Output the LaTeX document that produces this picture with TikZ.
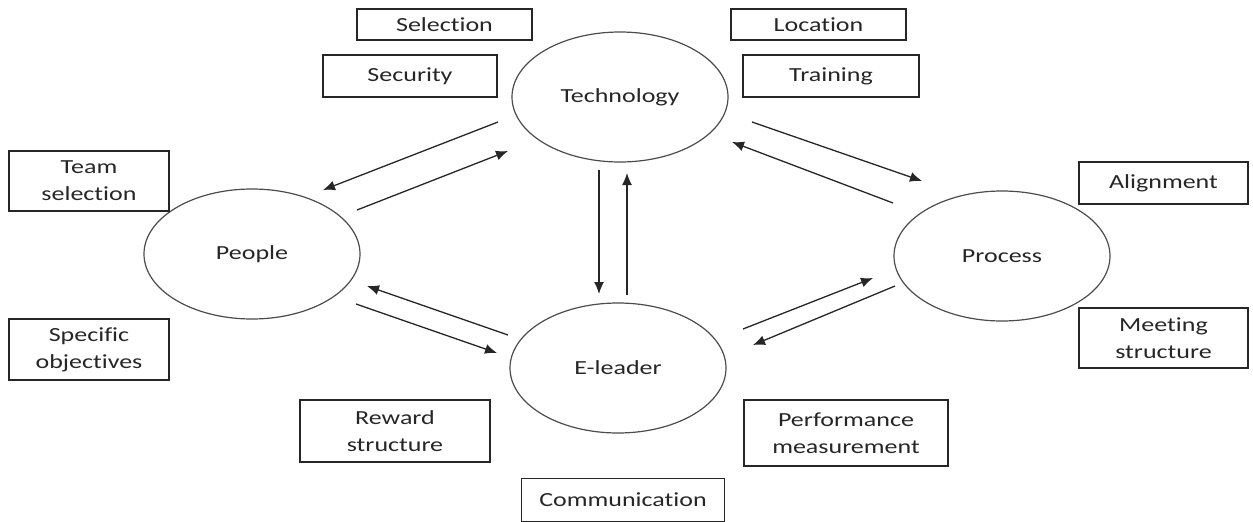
\documentclass[tikz,border=0pt]{standalone}
\usepackage{fontspec}
\setmainfont{Carlito}[FakeStretch=1.3,RawFeature=-liga]
\usepackage{tikz}
\usetikzlibrary{shapes.geometric,arrows.meta}

\tikzset{
	factor/.style={draw=black!70, line width=1.2pt, ellipse, minimum width=216pt, minimum height=130pt, inner sep=0pt, text=black!85},
	issue/.style={draw=black!85, line width=1.2pt, align=center, inner sep=0pt, text=black!85},
	link/.style={draw=black!85, line width=1.3pt, -{Latex[length=12pt,width=10pt]}}
}

\begin{document}
\begin{tikzpicture}[x=1pt,y=-1pt,font=\fontsize{20}{27}\selectfont]
	\useasboundingbox (0,0) rectangle (1253,522);
	\node[factor] (tech) at (620,97) {Technology};
	\node[factor] (people) at (252,254) {People};
	\node[factor] (process) at (1002,256) {Process};
	\node[factor] (lead) at (618,368) {E-leader};

	\node[issue, minimum width=175pt, minimum height=31pt] (sel) at (444.5,24.5) {Selection};
	\node[issue, minimum width=174pt, minimum height=42pt] (sec) at (410,76) {Security};
	\node[issue, minimum width=175pt, minimum height=31pt] (loc) at (818.5,24.5) {Location};
	\node[issue, minimum width=176pt, minimum height=42pt] (trn) at (831,76) {Training};
	\node[issue, minimum width=160pt, minimum height=60pt] (team) at (89,181) {Team\\selection};
	\node[issue, minimum width=160pt, minimum height=61pt] (spec) at (89,349.5) {Specific\\objectives};
	\node[issue, minimum width=169pt, minimum height=42pt] (align) at (1163.5,183) {Alignment};
	\node[issue, minimum width=169pt, minimum height=60pt] (meet) at (1163.5,338) {Meeting\\structure};
	\node[issue, minimum width=190pt, minimum height=62pt] (rew) at (395,431) {Reward\\structure};
	\node[issue, minimum width=204pt, minimum height=66pt] (perf) at (846,433) {Performance\\measurement};
	\node[issue, minimum width=203pt, minimum height=43pt] (comm) at (623,500) {Communication};

	\draw[link] ([shift={(-122,25)}]tech.center) -- ([shift={(71,-64)}]people.center);
	\draw[link] ([shift={(105,-44)}]people.center) -- ([shift={(-112,54)}]tech.center);
	\draw[link] ([shift={(-21,73)}]tech.center) -- ([shift={(-19,-74)}]lead.center);
	\draw[link] ([shift={(9,-73)}]lead.center) -- ([shift={(7,76)}]tech.center);
	\draw[link] ([shift={(132,25)}]tech.center) -- ([shift={(-80,-75)}]process.center);
	\draw[link] ([shift={(-109,-53)}]process.center) -- ([shift={(112,45)}]tech.center);
	\draw[link] ([shift={(104,50)}]people.center) -- ([shift={(-121,-15)}]lead.center);
	\draw[link] ([shift={(-110,-33)}]lead.center) -- ([shift={(115,32)}]people.center);
	\draw[link] ([shift={(125,-39)}]lead.center) -- ([shift={(-129,22)}]process.center);
	\draw[link] ([shift={(-107,30)}]process.center) -- ([shift={(135,-23)}]lead.center);
\end{tikzpicture}
\end{document}
